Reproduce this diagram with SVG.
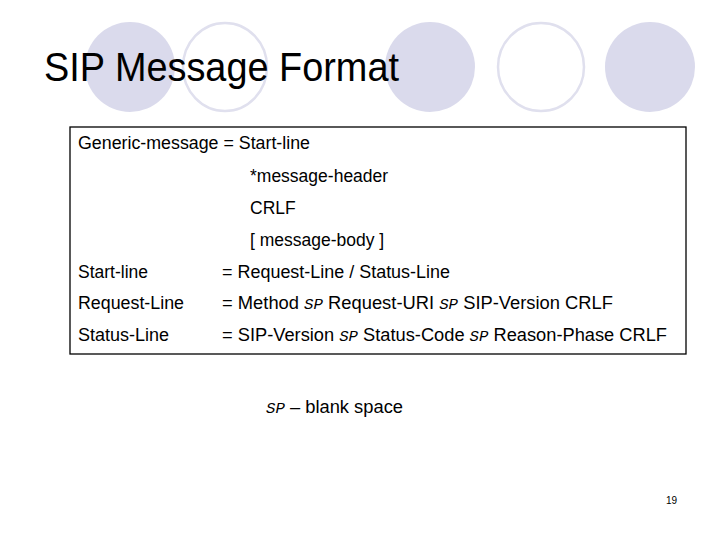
<svg xmlns="http://www.w3.org/2000/svg" width="720" height="540" viewBox="0 0 720 540">
<style>
.f{fill:#dadaec}
.o{fill:none;stroke:#e0e0ee;stroke-width:2.5}
.t{font-family:"Liberation Sans",Arial,sans-serif;font-size:17.5px;fill:#000}
.sp{font-family:"Liberation Mono","Courier New",monospace;font-style:italic;font-size:15px}
</style>
<rect width="720" height="540" fill="#fff"/>
<g id="circles">
<ellipse class="f" cx="130" cy="67" rx="45" ry="45"/>
<ellipse class="o" cx="225" cy="67" rx="42" ry="44"/>
<ellipse class="f" cx="430" cy="67" rx="45" ry="45"/>
<ellipse class="o" cx="541" cy="67" rx="43" ry="44"/>
<ellipse class="f" cx="650" cy="67" rx="45" ry="45"/>
</g>
<text x="44" y="81" font-family="Liberation Sans,Arial,sans-serif" font-size="40" textLength="355" lengthAdjust="spacingAndGlyphs">SIP Message Format</text>
<g id="box">
<rect x="70" y="127" width="616" height="227" fill="#fff" stroke="#000" stroke-width="1.3"/>
<text class="t" x="78" y="149" textLength="232" lengthAdjust="spacingAndGlyphs">Generic-message = Start-line</text>
<text class="t" x="250" y="182">*message-header</text>
<text class="t" x="250" y="214">CRLF</text>
<text class="t" x="250" y="246">[ message-body ]</text>
<text class="t" x="78" y="278">Start-line</text>
<text class="t" x="222" y="278" textLength="228" lengthAdjust="spacingAndGlyphs">= Request-Line / Status-Line</text>
<text class="t" x="78" y="309" textLength="106" lengthAdjust="spacingAndGlyphs">Request-Line</text>
<text class="t" x="222" y="309" textLength="391" lengthAdjust="spacingAndGlyphs">= Method <tspan class="sp">SP</tspan> Request-URI <tspan class="sp">SP</tspan> SIP-Version CRLF</text>
<text class="t" x="78" y="341" textLength="91" lengthAdjust="spacingAndGlyphs">Status-Line</text>
<text class="t" x="222" y="341" textLength="445" lengthAdjust="spacingAndGlyphs">= SIP-Version <tspan class="sp">SP</tspan> Status-Code <tspan class="sp">SP</tspan> Reason-Phase CRLF</text>
</g>
<text class="t" x="266" y="413" textLength="137" lengthAdjust="spacingAndGlyphs"><tspan class="sp">SP</tspan> – blank space</text>
<text x="666" y="504" font-family="Liberation Sans,Arial,sans-serif" font-size="10">19</text>
</svg>
